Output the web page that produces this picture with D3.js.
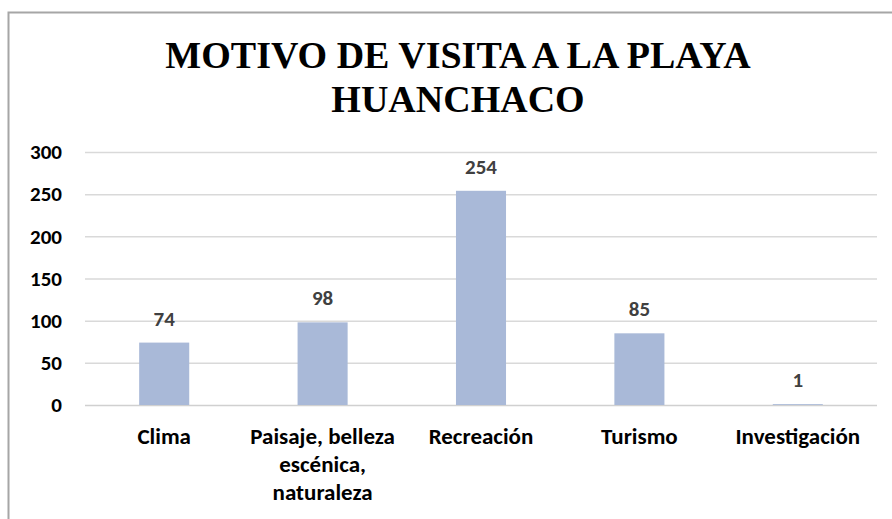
<!DOCTYPE html>
<html>
<head>
<meta charset="utf-8">
<script src="https://cdn.jsdelivr.net/npm/d3@7"></script>
<style>
  body { margin: 0; background: #fff; }
  svg { display: block; }
  .tick text { font-family: Carlito, Lato, "Open Sans", sans-serif; font-weight: bold; }
  .title { font-family: "Liberation Serif", Tinos, "Times New Roman", "Nimbus Roman", "DejaVu Serif", serif; font-weight: bold; }
</style>
</head>
<body>
<div id="chart"></div>
<script>
const categories = ["Clima", "Paisaje, belleza escénica, naturaleza", "Recreación", "Turismo", "Investigación"];
const catLines = [["Clima"], ["Paisaje, belleza", "escénica,", "naturaleza"], ["Recreación"], ["Turismo"], ["Investigación"]];
const values = [74, 98, 254, 85, 1];
const yTicks = [0, 50, 100, 150, 200, 250, 300];
const titleLines = ["MOTIVO DE VISITA A LA PLAYA", "HUANCHACO"];

const fullWidth = 892;
const fullHeight = 519;

const margin = { top: 152, right: 15, bottom: 114, left: 85 };
const width = fullWidth - margin.left - margin.right;
const height = fullHeight - margin.top - margin.bottom;

const svg = d3.select("#chart")
  .append("svg")
  .attr("width", fullWidth)
  .attr("height", fullHeight);

// outer frame (cropped on right/bottom)
svg.append("rect")
  .attr("x", 8.5).attr("y", 12.5)
  .attr("width", 960).attr("height", 600)
  .attr("fill", "none")
  .attr("stroke", "#a6a6a6")
  .attr("stroke-width", 2);

// title
svg.append("text")
  .classed("title", true)
  .attr("x", 458)
  .attr("y", 68)
  .attr("text-anchor", "middle")
  .style("font-size", "38px")
  .selectAll("tspan")
  .data(titleLines)
  .enter()
  .append("tspan")
  .attr("x", 458)
  .attr("dy", (d, i) => i === 0 ? 0 : 44)
  .text(d => d);

const g = svg.append("g")
  .attr("transform", `translate(${margin.left},${margin.top})`);

const xScale = d3.scaleBand()
  .domain(categories)
  .range([0, width])
  .paddingInner(0.684)
  .paddingOuter(0.342);

const yScale = d3.scaleLinear()
  .domain([0, 300])
  .range([height, 0]);

// gridlines
g.append("g")
  .classed("grid", true)
  .selectAll("line")
  .data(yTicks)
  .enter()
  .append("line")
  .attr("x1", 0)
  .attr("x2", width)
  .attr("y1", d => yScale(d) + 0.5)
  .attr("y2", d => yScale(d) + 0.5)
  .attr("stroke", d => d === 0 ? "#d0d0d0" : "#d9d9d9")
  .attr("stroke-width", 1.5);

// y axis labels
const yAxis = d3.axisLeft(yScale).tickValues(yTicks).tickSize(0).tickPadding(23);
const yG = g.append("g").classed("y axis", true).call(yAxis);
yG.select(".domain").remove();
yG.selectAll("text")
  .style("font-size", "21px")
  .attr("fill", "#000");

// bars
g.append("g")
  .classed("bar-holder", true)
  .selectAll("rect.bar")
  .data(values)
  .enter()
  .append("rect")
  .classed("bar", true)
  .attr("x", (d, i) => xScale(categories[i]))
  .attr("width", xScale.bandwidth())
  .attr("y", d => yScale(d))
  .attr("height", d => height - yScale(d))
  .attr("fill", "#a9b9d8");

// value labels
g.append("g")
  .selectAll("text")
  .data(values)
  .enter()
  .append("text")
  .attr("x", (d, i) => xScale(categories[i]) + xScale.bandwidth() / 2)
  .attr("y", d => yScale(d) - 17)
  .attr("text-anchor", "middle")
  .style("font-family", "Carlito, Lato, 'Open Sans', sans-serif")
  .style("font-weight", "bold")
  .style("font-size", "21px")
  .attr("fill", "#404040")
  .text(d => d);

// x axis labels
const xAxis = d3.axisBottom(xScale).tickSize(0).tickPadding(0);
const xG = g.append("g")
  .classed("x axis", true)
  .attr("transform", `translate(0,${height})`)
  .call(xAxis);
xG.select(".domain").remove();
xG.selectAll(".tick text").each(function(d, i) {
  const t = d3.select(this);
  t.text(null)
    .attr("y", 0)
    .attr("dy", null)
    .style("font-size", "23px")
    .attr("fill", "#000");
  catLines[i].forEach((line, j) => {
    t.append("tspan")
      .attr("x", 0)
      .attr("y", 39 + j * 28)
      .text(line);
  });
});
</script>
</body>
</html>
